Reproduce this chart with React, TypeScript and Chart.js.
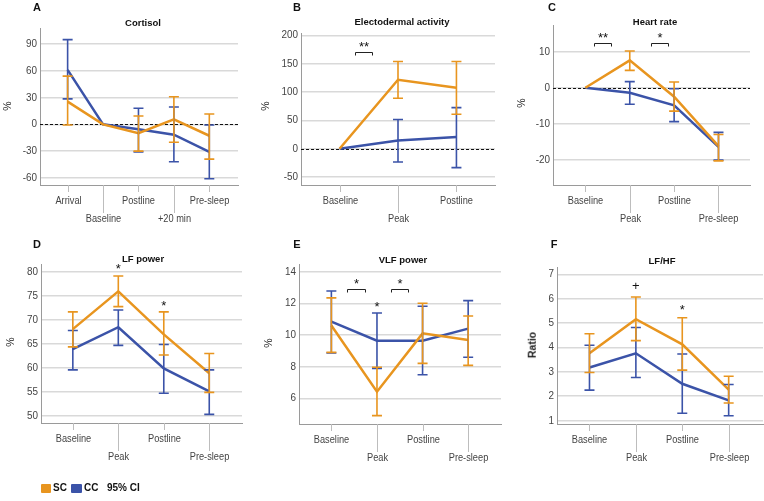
import React, { useEffect, useRef } from "react";
import { Chart, registerables } from "chart.js";
Chart.register(...registerables);

const FONT = '"Liberation Sans", Arial, Helvetica, sans-serif';
const ORANGE = "#E8951F";
const BLUE = "#3B53A8";
const W = 764;
const H = 501;

// ---------- categories ----------
const catsCortisol = ["Arrival", "Baseline", "Postline", "+20 min", "Pre-sleep"];
const catsEda = ["Baseline", "Peak", "Postline"];
const cats4 = ["Baseline", "Peak", "Postline", "Pre-sleep"];

// ---------- A: Cortisol ----------
const cortisolSC = [25.5, 0, -10, 5.6, -12.8];
const cortisolSCLo = [-0.8, null, -30, -20, -39];
const cortisolSCHi = [54, null, 9.4, 31, 11.6];
const cortisolCC = [61, 0, -5.6, -11.6, -31];
const cortisolCCLo = [28.5, null, -31, -42, -61];
const cortisolCCHi = [95, null, 18, 19.5, -0.8];
const cortisolTicks = [-60, -30, 0, 30, 60, 90];

// ---------- B: Electodermal activity ----------
const edaSC = [0, 121.6, 107.6];
const edaSCLo = [null, 88.9, 60.8];
const edaSCHi = [null, 153.8, 153.8];
const edaCC = [0, 14.6, 20.5];
const edaCCLo = [null, -23.4, -33.3];
const edaCCHi = [null, 51.5, 72.5];
const edaTicks = [-50, 0, 50, 100, 150, 200];

// ---------- C: Heart rate ----------
const hrSC = [0, 7.6, -2.5, -16.2];
const hrSCLo = [null, 4.8, -6.5, -20.3];
const hrSCHi = [null, 10.2, 1.6, -13.0];
const hrCC = [0, -1.4, -4.9, -16.4];
const hrCCLo = [null, -4.6, -9.4, -20.1];
const hrCCHi = [null, 1.7, -0.3, -12.4];
const hrTicks = [-20, -10, 0, 10];

// ---------- D: LF power ----------
const lfSC = [68.1, 76.0, 67.0, 58.9];
const lfSCLo = [64.4, 72.8, 62.7, 54.9];
const lfSCHi = [71.7, 79.2, 71.7, 63.0];
const lfCC = [63.9, 68.5, 59.9, 55.1];
const lfCCLo = [59.6, 64.7, 54.7, 50.3];
const lfCCHi = [67.8, 72.1, 64.9, 59.6];
const lfTicks = [50, 55, 60, 65, 70, 75, 80];

// ---------- E: VLF power ----------
const vlfSC = [10.6, 6.42, 10.1, 9.68];
const vlfSCLo = [8.9, 4.91, 8.21, 8.08];
const vlfSCHi = [12.34, 7.96, 12.0, 11.2];
const vlfCC = [10.84, 9.64, 9.64, 10.4];
const vlfCCLo = [8.86, 7.89, 7.49, 8.59];
const vlfCCHi = [12.78, 11.39, 11.81, 12.17];
const vlfTicks = [6, 8, 10, 12, 14];

// ---------- F: LF/HF ----------
const ratioSC = [3.76, 5.16, 4.13, 2.27];
const ratioSCLo = [2.97, 4.28, 3.07, 1.72];
const ratioSCHi = [4.56, 6.07, 5.22, 2.82];
const ratioCC = [3.18, 3.76, 2.51, 1.83];
const ratioCCLo = [2.25, 2.77, 1.3, 1.2];
const ratioCCHi = [4.09, 4.82, 3.73, 2.48];
const ratioTicks = [1, 2, 3, 4, 5, 6, 7];

type Bracket = { from: number; to: number; y: number; text: string };
type Mark = { x: number; y: number; text: string };
type Panel = {
  letter: string;
  title: string;
  yTitle: string;
  yTitleBold?: boolean;
  cats: string[];
  sc: number[]; scLo: (number | null)[]; scHi: (number | null)[];
  cc: number[]; ccLo: (number | null)[]; ccHi: (number | null)[];
  yTicks: number[];
  yMin: number; yMax: number;
  xMin: number; xMax: number;
  plot: { l: number; t: number; r: number; b: number };
  letterPos: [number, number];
  titlePos: [number, number];
  yTitlePos: [number, number];
  zeroLine: boolean;
  brackets: Bracket[];
  marks: Mark[];
};

const PANELS: Panel[] = [
  {
    letter: "A", title: "Cortisol", yTitle: "%", cats: catsCortisol,
    sc: cortisolSC, scLo: cortisolSCLo, scHi: cortisolSCHi,
    cc: cortisolCC, ccLo: cortisolCCLo, ccHi: cortisolCCHi,
    yTicks: cortisolTicks, yMin: -68, yMax: 108, xMin: -0.78, xMax: 4.81,
    plot: { l: 40, t: 28, r: 238, b: 185 },
    letterPos: [37, 7], titlePos: [143, 23], yTitlePos: [7, 106],
    zeroLine: true, brackets: [], marks: [],
  },
  {
    letter: "B", title: "Electodermal activity", yTitle: "%", cats: catsEda,
    sc: edaSC, scLo: edaSCLo, scHi: edaSCHi,
    cc: edaCC, ccLo: edaCCLo, ccHi: edaCCHi,
    yTicks: edaTicks, yMin: -64, yMax: 204, xMin: -0.66, xMax: 2.66,
    plot: { l: 301, t: 33, r: 495, b: 185 },
    letterPos: [297, 7], titlePos: [402, 22], yTitlePos: [265, 106],
    zeroLine: true,
    brackets: [{ from: 0.27, to: 0.56, y: 170, text: "**" }],
    marks: [],
  },
  {
    letter: "C", title: "Heart rate", yTitle: "%", cats: cats4,
    sc: hrSC, scLo: hrSCLo, scHi: hrSCHi,
    cc: hrCC, ccLo: hrCCLo, ccHi: hrCCHi,
    yTicks: hrTicks, yMin: -27, yMax: 17.4, xMin: -0.73, xMax: 3.71,
    plot: { l: 553, t: 25, r: 750, b: 185 },
    letterPos: [552, 7], titlePos: [655, 22], yTitlePos: [521, 103],
    zeroLine: true,
    brackets: [
      { from: 0.19, to: 0.57, y: 12.3, text: "**" },
      { from: 1.48, to: 1.86, y: 12.3, text: "*" },
    ],
    marks: [],
  },
  {
    letter: "D", title: "LF power", yTitle: "%", cats: cats4,
    sc: lfSC, scLo: lfSCLo, scHi: lfSCHi,
    cc: lfCC, ccLo: lfCCLo, ccHi: lfCCHi,
    yTicks: lfTicks, yMin: 48.5, yMax: 81.7, xMin: -0.7, xMax: 3.72,
    plot: { l: 41, t: 264, r: 242, b: 423 },
    letterPos: [37, 244], titlePos: [143, 259], yTitlePos: [10, 342],
    zeroLine: false, brackets: [],
    marks: [
      { x: 1, y: 81.3, text: "*" },
      { x: 2, y: 73.6, text: "*" },
    ],
  },
  {
    letter: "E", title: "VLF power", yTitle: "%", cats: cats4,
    sc: vlfSC, scLo: vlfSCLo, scHi: vlfSCHi,
    cc: vlfCC, ccLo: vlfCCLo, ccHi: vlfCCHi,
    yTicks: vlfTicks, yMin: 4.38, yMax: 14.48, xMin: -0.71, xMax: 3.72,
    plot: { l: 299, t: 264, r: 501, b: 424 },
    letterPos: [297, 244], titlePos: [403, 260], yTitlePos: [268, 343],
    zeroLine: false,
    brackets: [
      { from: 0.35, to: 0.73, y: 12.88, text: "*" },
      { from: 1.3, to: 1.67, y: 12.88, text: "*" },
    ],
    marks: [{ x: 1, y: 12.0, text: "*" }],
  },
  {
    letter: "F", title: "LF/HF", yTitle: "Ratio", yTitleBold: true, cats: cats4,
    sc: ratioSC, scLo: ratioSCLo, scHi: ratioSCHi,
    cc: ratioCC, ccLo: ratioCCLo, ccHi: ratioCCHi,
    yTicks: ratioTicks, yMin: 0.86, yMax: 7.3, xMin: -0.7, xMax: 3.74,
    plot: { l: 557, t: 267, r: 763, b: 424 },
    letterPos: [554, 244], titlePos: [662, 261], yTitlePos: [532, 345],
    zeroLine: false, brackets: [],
    marks: [
      { x: 1, y: 6.55, text: "+" },
      { x: 2, y: 5.66, text: "*" },
    ],
  },
];

function drawSymbol(ctx: CanvasRenderingContext2D, text: string, cx: number, cy: number) {
  const size = 13;
  ctx.save();
  ctx.fillStyle = "#111";
  ctx.font = `${size}px ${FONT}`;
  ctx.textAlign = "center";
  ctx.textBaseline = "alphabetic";
  const off = text === "+" ? 0.33 : 0.57;
  ctx.fillText(text, cx, cy + off * size);
  ctx.restore();
}

function drawNarrowText(
  ctx: CanvasRenderingContext2D,
  text: string,
  x: number,
  y: number,
  align: CanvasTextAlign,
  size: number,
  squeeze: number
) {
  ctx.save();
  ctx.translate(x, y);
  ctx.scale(squeeze, 1);
  ctx.fillStyle = "#444";
  ctx.font = `${size}px ${FONT}`;
  ctx.textAlign = align;
  ctx.textBaseline = "middle";
  ctx.fillText(text, 0, 0);
  ctx.restore();
}

function makePlugin(p: Panel) {
  return {
    id: "panelDeco" + p.letter,
    beforeDatasetsDraw(chart: any) {
      if (!p.zeroLine) return;
      const { ctx, chartArea } = chart;
      const y = chart.scales.y;
      const py = Math.round(y.getPixelForValue(0)) + 0.5;
      ctx.save();
      ctx.strokeStyle = "#111";
      ctx.lineWidth = 1;
      ctx.setLineDash([3, 2]);
      ctx.beginPath();
      ctx.moveTo(chartArea.left, py);
      ctx.lineTo(chartArea.right, py);
      ctx.stroke();
      ctx.restore();
    },
    afterDatasetsDraw(chart: any) {
      const { ctx } = chart;
      const xs = chart.scales.x;
      const ys = chart.scales.y;
      const series: [(number | null)[], (number | null)[], string][] = [
        [p.ccLo, p.ccHi, BLUE],
        [p.scLo, p.scHi, ORANGE],
      ];
      ctx.save();
      ctx.lineWidth = 1.6;
      for (const [lo, hi, color] of series) {
        ctx.strokeStyle = color;
        for (let i = 0; i < lo.length; i++) {
          const l = lo[i];
          const h = hi[i];
          if (l == null || h == null) continue;
          const px = xs.getPixelForValue(i);
          const pl = ys.getPixelForValue(l);
          const ph = ys.getPixelForValue(h);
          ctx.beginPath();
          ctx.moveTo(px, pl);
          ctx.lineTo(px, ph);
          ctx.moveTo(px - 5, pl);
          ctx.lineTo(px + 5, pl);
          ctx.moveTo(px - 5, ph);
          ctx.lineTo(px + 5, ph);
          ctx.stroke();
        }
      }
      ctx.restore();
    },
    afterDraw(chart: any) {
      const { ctx, chartArea } = chart;
      const xs = chart.scales.x;
      const ys = chart.scales.y;
      const axisY = chartArea.bottom;
      ctx.save();
      // y tick labels
      for (const v of p.yTicks) {
        drawNarrowText(ctx, String(v), chartArea.left - 3, ys.getPixelForValue(v), "right", 11, 0.9);
      }
      // x tick marks and staggered labels
      p.cats.forEach((label, i) => {
        const px = Math.round(xs.getPixelForValue(i)) + 0.5;
        const lower = i % 2 === 1;
        ctx.strokeStyle = "#bdbdbd";
        ctx.lineWidth = 1;
        ctx.beginPath();
        ctx.moveTo(px, axisY);
        ctx.lineTo(px, axisY + (lower ? 28 : 7));
        ctx.stroke();
        drawNarrowText(ctx, label, px, axisY + (lower ? 34 : 16), "center", 10.5, 0.88);
      });
      // significance brackets
      for (const b of p.brackets) {
        const x1 = Math.round(xs.getPixelForValue(b.from)) + 0.5;
        const x2 = Math.round(xs.getPixelForValue(b.to)) + 0.5;
        const yb = Math.round(ys.getPixelForValue(b.y)) + 0.5;
        ctx.strokeStyle = "#222";
        ctx.lineWidth = 1;
        ctx.beginPath();
        ctx.moveTo(x1, yb + 3);
        ctx.lineTo(x1, yb);
        ctx.lineTo(x2, yb);
        ctx.lineTo(x2, yb + 3);
        ctx.stroke();
        drawSymbol(ctx, b.text, (x1 + x2) / 2, yb - 9);
      }
      for (const m of p.marks) {
        drawSymbol(ctx, m.text, xs.getPixelForValue(m.x), ys.getPixelForValue(m.y));
      }
      ctx.restore();
    },
  };
}

function buildConfig(p: Panel): any {
  const XH = 40;
  return {
    type: "line",
    data: {
      datasets: [
        {
          label: "SC",
          data: p.sc.map((v, i) => ({ x: i, y: v })),
          borderColor: ORANGE,
          backgroundColor: ORANGE,
          borderWidth: 2.5,
          pointRadius: 0,
          tension: 0,
          fill: false,
        },
        {
          label: "CC",
          data: p.cc.map((v, i) => ({ x: i, y: v })),
          borderColor: BLUE,
          backgroundColor: BLUE,
          borderWidth: 2.5,
          pointRadius: 0,
          tension: 0,
          fill: false,
        },
      ],
    },
    options: {
      responsive: false,
      animation: false,
      devicePixelRatio: 1,
      events: [],
      layout: {
        padding: { left: 0, top: p.plot.t, right: W - p.plot.r, bottom: H - p.plot.b - XH },
      },
      plugins: {
        legend: { display: false },
        tooltip: { enabled: false },
        title: { display: false },
      },
      scales: {
        x: {
          type: "linear",
          min: p.xMin,
          max: p.xMax,
          grid: { display: false },
          ticks: { display: false },
          border: { display: true, color: "#9a9a9a", width: 1 },
          afterFit: (s: any) => {
            s.height = XH;
          },
        },
        y: {
          type: "linear",
          min: p.yMin,
          max: p.yMax,
          afterBuildTicks: (s: any) => {
            s.ticks = p.yTicks.map((v) => ({ value: v }));
          },
          grid: { color: "#d9d9d9", lineWidth: 1.5, drawTicks: false },
          border: { display: true, color: "#9a9a9a", width: 1 },
          ticks: { display: false },
          afterFit: (s: any) => {
            s.width = p.plot.l;
          },
        },
      },
    },
    plugins: [makePlugin(p)],
  };
}

const abs: React.CSSProperties = { position: "absolute", whiteSpace: "nowrap", lineHeight: 1 };

export default function App() {
  const refs = useRef<(HTMLCanvasElement | null)[]>([]);

  useEffect(() => {
    const charts = PANELS.map((p, i) => new Chart(refs.current[i] as HTMLCanvasElement, buildConfig(p)));
    return () => charts.forEach((c) => c.destroy());
  }, []);

  return (
    <div
      style={{
        position: "absolute",
        left: 0,
        top: 0,
        width: W,
        height: H,
        background: "#fff",
        fontFamily: FONT,
        color: "#111",
        overflow: "hidden",
      }}
    >
      {PANELS.map((p, i) => (
        <canvas
          key={"c" + p.letter}
          ref={(el) => {
            refs.current[i] = el;
          }}
          width={W}
          height={H}
          style={{ position: "absolute", left: 0, top: 0, width: W, height: H }}
        />
      ))}
      {PANELS.map((p) => (
        <React.Fragment key={"t" + p.letter}>
          <div
            style={{
              ...abs,
              left: p.letterPos[0],
              top: p.letterPos[1],
              transform: "translate(-50%, -50%)",
              fontWeight: "bold",
              fontSize: 11,
            }}
          >
            {p.letter}
          </div>
          <div
            style={{
              ...abs,
              left: p.titlePos[0],
              top: p.titlePos[1],
              transform: "translate(-50%, -50%)",
              fontWeight: "bold",
              fontSize: 9.5,
            }}
          >
            {p.title}
          </div>
          <div
            style={{
              ...abs,
              left: p.yTitlePos[0],
              top: p.yTitlePos[1],
              transform: "translate(-50%, -50%) rotate(-90deg)",
              fontWeight: p.yTitleBold ? "bold" : "normal",
              fontSize: 10.5,
              color: "#222",
            }}
          >
            {p.yTitle}
          </div>
        </React.Fragment>
      ))}
      {/* legend */}
      <div style={{ ...abs, left: 41, top: 484, width: 10, height: 9, background: ORANGE, borderRadius: 1 }} />
      <div style={{ ...abs, left: 53, top: 488, transform: "translateY(-50%)", fontWeight: "bold", fontSize: 10 }}>SC</div>
      <div style={{ ...abs, left: 71, top: 484, width: 11, height: 9, background: BLUE, borderRadius: 1 }} />
      <div style={{ ...abs, left: 84, top: 488, transform: "translateY(-50%)", fontWeight: "bold", fontSize: 10 }}>CC</div>
      <div style={{ ...abs, left: 107, top: 488, transform: "translateY(-50%)", fontWeight: "bold", fontSize: 10 }}>95% CI</div>
    </div>
  );
}
